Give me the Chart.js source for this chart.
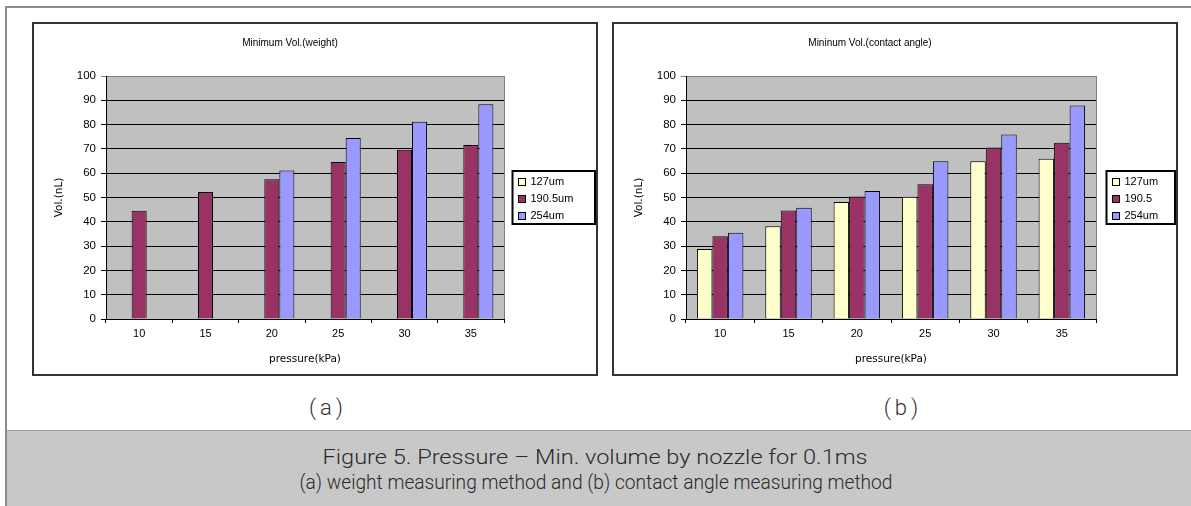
<!DOCTYPE html>
<html><head><meta charset="utf-8">
<script src="https://cdn.jsdelivr.net/npm/chart.js@4"></script>
<style>
html,body{margin:0;padding:0;background:#fff;}
body{width:1191px;height:506px;position:relative;overflow:hidden;font-family:"DejaVu Sans",sans-serif;}
#frame{position:absolute;left:5px;top:6px;width:1200px;height:520px;border-top:2px solid #8c8c8c;border-left:2px solid #8c8c8c;}
.box{position:absolute;top:22px;border:2px solid #333;width:562px;height:350px;background:#fff;}
.box canvas{display:block;}
#boxA{left:32px;} #boxB{left:612px;}
.sub{position:absolute;top:395px;width:100px;text-align:center;font-family:Roboto,"DejaVu Sans",sans-serif;font-weight:300;font-size:22px;line-height:26px;letter-spacing:4px;color:#333;}
#band{position:absolute;left:5px;top:430px;width:1200px;height:90px;background:#c8c8c8;border-top:1px solid #9a9a9a;border-left:2px solid #8c8c8c;}
.cap{position:absolute;left:0;width:1191px;text-align:center;white-space:nowrap;font-family:Roboto,"Liberation Sans",sans-serif;font-weight:300;font-size:21px;line-height:24px;color:#2a2a2a;}
.cap span{display:inline-block;transform-origin:50% 50%;}
</style></head>
<body>
<div id="frame"></div>
<div class="box" id="boxA"><canvas id="chartA" width="562" height="350"></canvas></div>
<div class="box" id="boxB"><canvas id="chartB" width="562" height="350"></canvas></div>
<div class="sub" style="left:278px">(a)</div>
<div class="sub" style="left:853px">(b)</div>
<div id="band"></div>
<div class="cap" style="top:445px"><span id="cap1">Figure 5. Pressure – Min. volume by nozzle for 0.1ms</span></div>
<div class="cap" style="top:470px"><span id="cap2">(a) weight measuring method and (b) contact angle measuring method</span></div>
<script>
// ---- data ----
const categories = ['10', '15', '20', '25', '30', '35'];
const seriesNamesA = ['127um', '190.5um', '254um'];
const seriesNamesB = ['127um', '190.5', '254um'];
const weight127 = [null, null, null, null, null, null];
const weight190 = [44.5, 52.3, 57.5, 64.6, 69.6, 71.6];
const weight254 = [null, null, 61.1, 74.5, 81.2, 88.4];
const contact127 = [28.8, 38.2, 48.1, 50.3, 64.9, 65.9];
const contact190 = [34.1, 44.7, 50.4, 55.5, 70.6, 72.5];
const contact254 = [35.5, 45.8, 52.7, 64.9, 75.9, 87.9];
const yMin = 0, yMax = 100, yStep = 10;
const titleA = 'Minimum Vol.(weight)';
const titleB = 'Mininum Vol.(contact angle)';
const xTitle = 'pressure(kPa)';
const yTitle = 'Vol.(nL)';
const seriesColors = ['#FFFFCC', '#993366', '#9999FF'];

// fit caption widths
function fitSpan(id, target){
  const el = document.getElementById(id);
  const w = el.getBoundingClientRect().width;
  el.style.transform = 'scaleX(' + (target / w) + ')';
}
fitSpan('cap1', 545);
fitSpan('cap2', 593);

const FONT = '"Liberation Sans", Arial, sans-serif';
const FONT2 = '"DejaVu Sans", sans-serif';

const decor = {
  id: 'decor',
  beforeDraw(chart) {
    const {ctx, chartArea: a} = chart;
    ctx.save();
    ctx.fillStyle = '#c0c0c0';
    ctx.fillRect(a.left, a.top, a.right - a.left, a.bottom - a.top);
    ctx.restore();
  },
  afterDraw(chart, args, opts) {
    const {ctx, chartArea: a} = chart;
    ctx.save();
    // plot area right border
    ctx.strokeStyle = '#808080';
    ctx.lineWidth = 1;
    ctx.beginPath();
    ctx.moveTo(Math.round(a.right) + 0.5, a.top);
    ctx.lineTo(Math.round(a.right) + 0.5, a.bottom);
    ctx.stroke();
    // title
    ctx.fillStyle = '#000';
    ctx.font = '10px ' + FONT;
    ctx.textAlign = 'center';
    ctx.textBaseline = 'middle';
    ctx.fillText(opts.title, 256, 19);
    // legend
    ctx.font = '11px ' + FONT;
    const ds = chart.data.datasets;
    const padL = 5, sq = 7, gap = 6, rowH = 17;
    const x0 = Math.round(a.right) + opts.legendGap + 0.5;
    const x1 = chart.width - 1;
    const w = x1 - x0;
    const y0 = 147, h = 53;
    ctx.fillStyle = '#fff';
    ctx.fillRect(x0, y0, w, h);
    ctx.strokeStyle = '#000';
    ctx.lineWidth = 2;
    ctx.strokeRect(x0, y0, w, h);
    ctx.lineWidth = 1;
    ctx.textAlign = 'left';
    ds.forEach((d, i) => {
      const cy = y0 + 10 + i * rowH;
      const sx = Math.round(x0 + padL) + 0.5, sy = Math.round(cy - sq / 2) + 0.5;
      ctx.fillStyle = d.backgroundColor;
      ctx.fillRect(sx, sy, sq, sq);
      ctx.strokeStyle = '#000';
      ctx.strokeRect(sx, sy, sq, sq);
      ctx.fillStyle = '#000';
      ctx.fillText(d.label, x0 + padL + sq + gap, cy + 1);
    });
    ctx.restore();
  }
};

function makeChart(id, names, series, title, padRight, legendGap) {
  return new Chart(document.getElementById(id), {
    type: 'bar',
    data: {
      labels: categories,
      datasets: series.map((s, i) => ({
        label: names[i],
        data: s,
        backgroundColor: seriesColors[i],
        borderColor: '#000',
        borderWidth: 1,
        categoryPercentage: 0.68,
        barPercentage: 1.0
      }))
    },
    options: {
      responsive: false,
      animation: false,
      devicePixelRatio: 1,
      layout: {padding: {top: 52, right: padRight, bottom: 0, left: 0}},
      plugins: {
        legend: {display: false},
        title: {display: false},
        tooltip: {enabled: false},
        decor: {title: title, legendGap: legendGap}
      },
      scales: {
        x: {
          type: 'category',
          grid: {display: true, drawOnChartArea: false, drawTicks: true, tickLength: 4, color: '#000', offset: true},
          border: {display: true, color: '#000', width: 1},
          ticks: {color: '#000', font: {family: FONT, size: 11}, padding: 4, maxRotation: 0},
          title: {display: true, text: xTitle, color: '#000', font: {family: FONT2, size: 10.5}, padding: {top: 0, bottom: 8}},
          afterFit(s) { s.height = 55; }
        },
        y: {
          min: yMin, max: yMax,
          grid: {
            color: c => (c.tick && c.tick.value === yMax) ? '#808080' : '#000',
            lineWidth: 1, drawTicks: true, tickLength: 5
          },
          border: {display: true, color: '#000', width: 1},
          ticks: {stepSize: yStep, color: '#000', font: {family: FONT, size: 11.5}, padding: 5},
          title: {display: true, text: yTitle, color: '#000', font: {family: FONT2, size: 10.5}, padding: {top: 19, bottom: 0}},
          afterFit(s) { s.width = 72; }
        }
      }
    },
    plugins: [decor]
  });
}

makeChart('chartA', seriesNamesA, [weight127, weight190, weight254], titleA, 92, 8);
makeChart('chartB', seriesNamesB, [contact127, contact190, contact254], titleB, 80, 10);
</script>
</body></html>
